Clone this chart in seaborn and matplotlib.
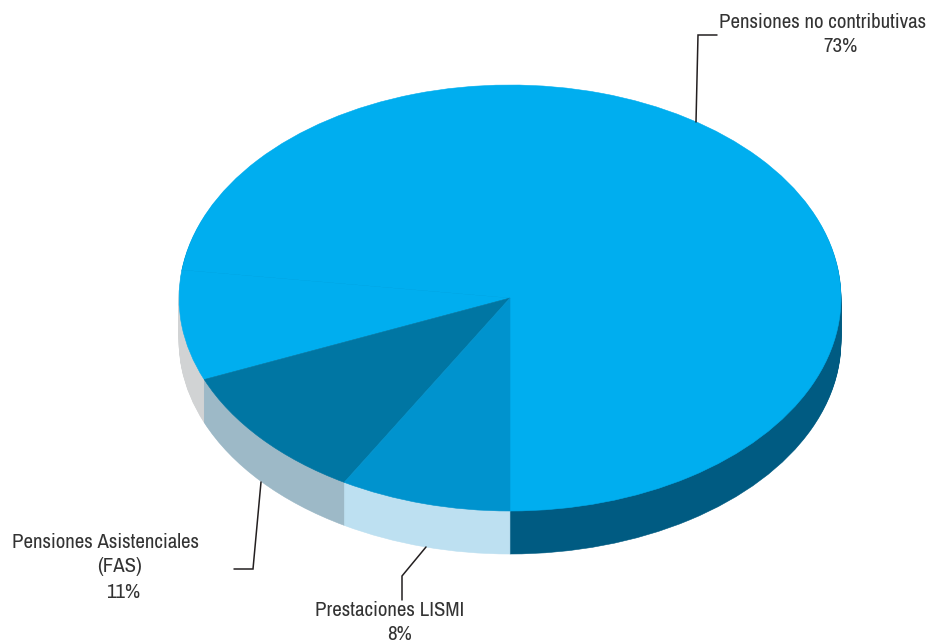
import matplotlib
matplotlib.use('Agg')
import matplotlib.pyplot as plt
import seaborn as sns

# the 2nd slice has no label, its top has the same colour as the big one
values = [72.9, 8.35, 10.4, 8.35]
top_colors = ['#00AEEF', '#00AEEF', '#0076A3', '#0093CE']
side_colors = ['#005B82', '#D1D3D4', '#9DB9C7', '#BDE0F1']
label_lines = ['Pensiones no contributivas', '73%',
               'Pensiones Asistenciales', '(FAS)', '11%',
               'Prestaciones LISMI', '8%']

sns.set_theme(style='white')
plt.rcParams['font.family'] = ['Archivo Narrow', 'Liberation Sans Narrow', 'Lato', 'DejaVu Sans']

W, H = 930, 644
CX, CY, RX, RY, DEPTH = 510, 298, 331, 213, 43


def px(x, y):
    return (x - CX) / RX, (CY - y) / RY


def draw_layer(colors, dy):
    wedges, _ = ax.pie(values, colors=sns.color_palette(colors), startangle=270,
                       center=(0, dy), radius=1)
    # borde del mismo color para que no quede una linea entre porciones
    for w in wedges:
        w.set_edgecolor(w.get_facecolor())
        w.set_linewidth(0.4)


fig = plt.figure(figsize=(W / 100, H / 100), dpi=100)
ax = fig.add_axes([0, 0, 1, 1])

# cara lateral: una tarta por cada pixel de profundidad
for k in range(DEPTH, 0, -1):
    draw_layer(side_colors, -k / RY)
draw_layer(top_colors, 0)

ax.set_aspect('auto')
ax.set_xlim(px(0, 0)[0], px(W, 0)[0])
ax.set_ylim(px(0, H)[1], px(0, 0)[1])
ax.axis('off')

# lineas guia
for path in ([(696, 122), (698, 35), (717, 35)],
             [(261, 482), (253, 569), (234, 569)],
             [(426, 547), (402, 576), (402, 600)]):
    pts = [px(*p) for p in path]
    ax.plot([p[0] for p in pts], [p[1] for p in pts], color='#231F20', lw=1.1, solid_joinstyle='miter')

# cada renglon va aparte porque no estan centrados entre si
line_pos = [(823, 22), (841, 47), (105, 543), (120, 567), (123, 592), (390, 611), (400, 634)]
for txt, (x, y) in zip(label_lines, line_pos):
    ax.text(*px(x, y), txt, ha='center', va='center', fontsize=15, color='#333333')

fig.savefig('out.png', dpi=100)
